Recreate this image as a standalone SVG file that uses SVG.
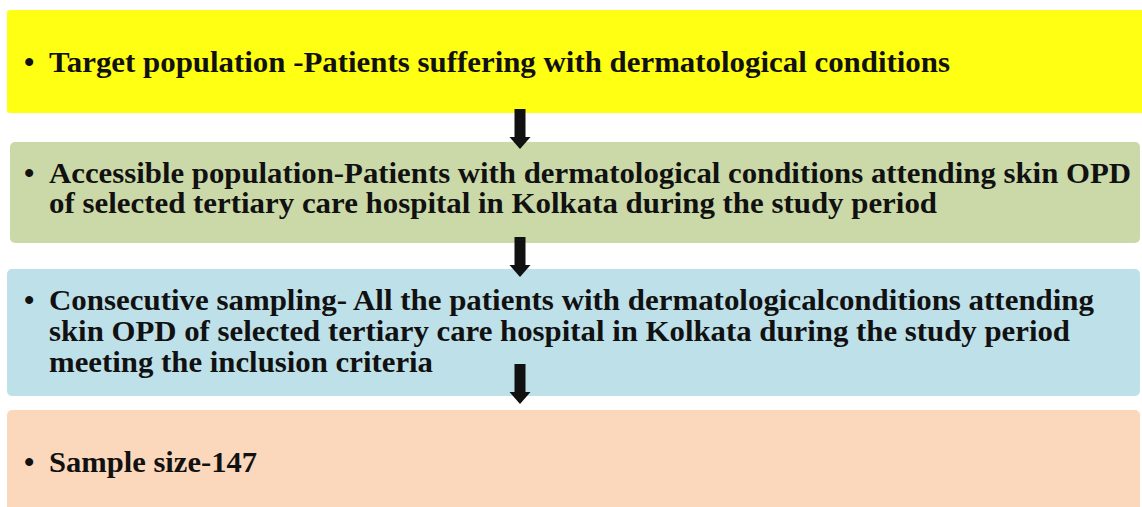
<svg xmlns="http://www.w3.org/2000/svg" width="1142" height="507" viewBox="0 0 1142 507">
<style>
.t{font-family:"Liberation Serif","Times New Roman",serif;font-weight:bold;font-size:29.5px;fill:#111;}
.box{stroke:none;}
</style>
<defs>
<path id="arr" d="M-5.5,0 H5.5 V28 H10.5 L0,40 L-10.5,28 H-5.5 Z" fill="#111"/>
</defs>
<rect width="1142" height="507" fill="#fff"/>
<g id="node1">
<rect class="box" x="7" y="10" width="1140" height="103" rx="3" fill="#ffff14"/>
<text class="t" x="24" y="72">•</text>
<text class="t" x="49" y="72" textLength="901" lengthAdjust="spacingAndGlyphs">Target population -Patients suffering with dermatological conditions</text>
</g>
<g id="node2">
<rect class="box" x="10" y="142" width="1130" height="101" rx="5" fill="#cbd9a8"/>
<text class="t" x="24" y="183">•</text>
<text class="t" x="49" y="183" textLength="1082" lengthAdjust="spacingAndGlyphs">Accessible population-Patients with dermatological conditions attending skin OPD</text>
<text class="t" x="49" y="213" textLength="888" lengthAdjust="spacingAndGlyphs">of selected tertiary care hospital in Kolkata during the study period</text>
</g>
<g id="node3">
<rect class="box" x="7" y="269" width="1133" height="127" rx="5" fill="#bee0e8"/>
<text class="t" x="24" y="310">•</text>
<text class="t" x="49" y="310" textLength="1045" lengthAdjust="spacingAndGlyphs">Consecutive sampling- All the patients with dermatologicalconditions attending</text>
<text class="t" x="49" y="341" textLength="1021" lengthAdjust="spacingAndGlyphs">skin OPD of selected tertiary care hospital in Kolkata during the study period</text>
<text class="t" x="49" y="372" textLength="384" lengthAdjust="spacingAndGlyphs">meeting the inclusion criteria</text>
</g>
<g id="node4">
<rect class="box" x="7" y="410" width="1133" height="110" rx="5" fill="#fbd8bc"/>
<text class="t" x="24" y="472">•</text>
<text class="t" x="49" y="472" textLength="208" lengthAdjust="spacingAndGlyphs">Sample size-147</text>
</g>
<g id="connectors">
<use href="#arr" x="520" y="109"/>
<use href="#arr" x="520" y="237"/>
<use href="#arr" x="520" y="364"/>
</g>
</svg>
